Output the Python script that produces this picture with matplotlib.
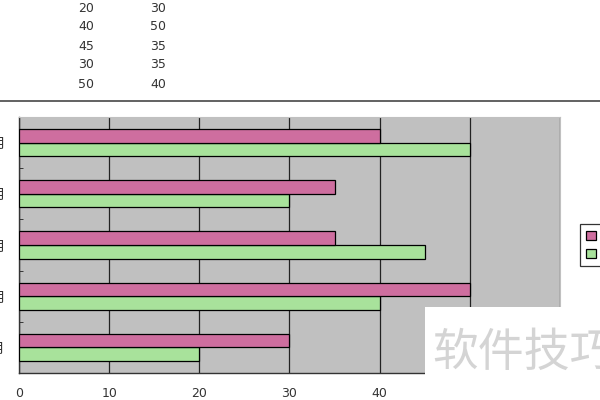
import numpy as np
import matplotlib.pyplot as plt
from matplotlib.patches import Rectangle

plt.rcParams['font.family'] = ['DejaVu Sans', 'Noto Sans CJK SC']

# ===== Datos =====
months  = ["1月", "2月", "3月", "4月", "5月"]
serie1  = [20, 40, 45, 30, 50]   # verde
serie2  = [30, 50, 35, 35, 40]   # rosa
x_ticks = [0, 10, 20, 30, 40, 50, 60]

c_pink  = "#CE6E9F"
c_green = "#A8E29B"
c_back  = "#C0C0C0"

fig = plt.figure(figsize=(6, 4), dpi=100)
fig.patch.set_facecolor("white")

# ===== Tabla de arriba (recortada) =====
for r, (a, b) in enumerate(zip(serie1, serie2)):
    y = 1 - (8 + 19*r) / 400
    fig.text(86/600, y, str(a), ha="center", va="center", fontsize=9, color="#333333")
    fig.text(158/600, y, str(b), ha="center", va="center", fontsize=9, color="#333333")

# línea separadora
fig.add_artist(plt.Line2D([0, 1], [1 - 101.5/400]*2, color="#555555", lw=1.3))

# ===== Gráfico de barras =====
ax = fig.add_axes([19/600, 27/400, 541/600, 256/400])
ax.set_facecolor(c_back)
y = np.arange(len(months))
h = 0.265
ax.barh(y - h/2, serie1, height=h, color=c_green, edgecolor="black", lw=0.9, zorder=3, label="系列1")
ax.barh(y + h/2, serie2, height=h, color=c_pink, edgecolor="black", lw=0.9, zorder=3, label="系列2")

ax.set_xlim(0, 60)
ax.set_ylim(-0.5, len(months) - 0.5)
ax.set_xticks(x_ticks)
ax.set_xticklabels([str(v) for v in x_ticks], fontsize=9, color="#333333")
ax.tick_params(axis="x", length=0, pad=10)
ax.xaxis.grid(True, color="#222222", lw=0.9, zorder=1)

ax.set_yticks(y)
ax.set_yticklabels(months, fontsize=10, family=["Noto Sans CJK SC"], color="#333333")
ax.tick_params(axis="y", length=0, pad=9.5)
ax.set_yticks(np.arange(len(months) + 1) - 0.5, minor=True)
ax.tick_params(axis="y", which="minor", length=3, direction="in", color="#222222")

for s in ["top", "right"]:
    ax.spines[s].set_color(c_back)
for s in ["left", "bottom"]:
    ax.spines[s].set_color("#333333")
    ax.spines[s].set_linewidth(1.0)

# ===== Leyenda (recortada por el borde) =====
handles, labels = ax.get_legend_handles_labels()
leg = fig.legend(handles[::-1], labels[::-1], loc="upper left",
                 bbox_to_anchor=(580/600, 1 - 224/400), frameon=True, fancybox=False,
                 edgecolor="black", handlelength=0.8, handleheight=0.8,
                 borderpad=0.45, labelspacing=0.4, handletextpad=0.6, borderaxespad=0,
                 prop={"family": "Noto Sans CJK SC", "size": 9})
leg.get_frame().set_linewidth(0.9)

# ===== Marca de agua =====
fig.add_artist(Rectangle((425/600, 0), 175/600, 93/400, transform=fig.transFigure,
                         facecolor="white", edgecolor="none", zorder=10))
fig.text(432/600, 1 - 353/400, "软件技巧", ha="left", va="center", fontsize=33,
         color="#D4D4D4", family=["Noto Sans CJK SC"], zorder=11)

fig.savefig("out.png", dpi=100)
